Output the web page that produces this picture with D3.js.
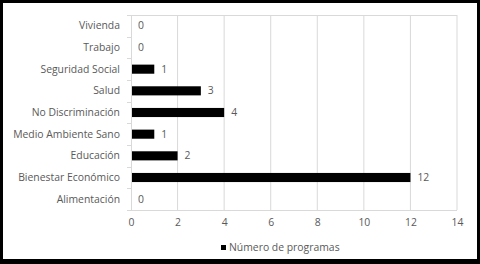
<!DOCTYPE html>
<html>
<head>
<meta charset="utf-8">
<script src="https://cdn.jsdelivr.net/npm/d3@7"></script>
<style>
	body { margin: 0; background: #000; }
	svg { display: block; }
	text { font-family: "Open Sans", sans-serif; font-size: 10.4px; fill: #595959; }
</style>
</head>
<body>
<div id="chart-area"></div>
<script>
// categories, bottom to top as in the spreadsheet
let categories = ["Alimentación", "Bienestar Económico", "Educación", "Medio Ambiente Sano",
	"No Discriminación", "Salud", "Seguridad Social", "Trabajo", "Vivienda"];
let programas = [0, 12, 2, 1, 4, 3, 1, 0, 0];
let xTicks = [0, 2, 4, 6, 8, 10, 12, 14];
let seriesName = "Número de programas";

let data = categories.map((c, i) => ({ cat: c, value: programas[i] }));

drawChart(data)

function drawChart(data){
	let W = 480, H = 264;
	let margin = {top: 15, right: 23, bottom: 54, left: 131};
	let width = W - margin.left - margin.right,
		height = H - margin.top - margin.bottom;

	let root = d3.select("#chart-area").append("svg")
		.attr("width", W)
		.attr("height", H);

	// black frame around the white chart area
	root.append("rect").attr("width", W).attr("height", H).attr("fill", "#000");
	root.append("rect").attr("x", 3).attr("y", 3).attr("width", 474).attr("height", 256).attr("fill", "#fff");

	let svg = root.append("g")
		.attr("transform", "translate(" + margin.left + "," + margin.top + ")");

	let x = d3.scaleLinear()
		.domain([0, 14])
		.range([0, width])

	let y = d3.scaleBand()
		.domain(categories.slice().reverse())
		.range([0, height])
		.paddingInner(0.58)
		.paddingOuter(0.29)

	// vertical gridlines
	svg.selectAll(".grid").data(xTicks.slice(1))
		.enter().append("line")
		.attr("class", "grid")
		.attr("x1", d => x(d)).attr("x2", d => x(d))
		.attr("y1", 0).attr("y2", height)
		.attr("stroke", "#d9d9d9")
		.attr("stroke-width", 1)

	// top border line
	svg.append("line")
		.attr("x1", 0).attr("x2", width)
		.attr("y1", 0.5).attr("y2", 0.5)
		.attr("stroke", "#d9d9d9")

	// x axis
	let xAxis = d3.axisBottom(x)
		.tickValues(xTicks)
		.tickSize(0)
		.tickPadding(9)
	let gx = svg.append("g")
		.attr("transform", "translate(0," + height + ")")
		.call(xAxis);
	gx.select(".domain").remove();
	gx.selectAll("text").style("font-size", "10.4px").attr("fill", "#595959");

	// category axis line with ticks between categories
	let step = y.step();
	svg.append("line")
		.attr("x1", -4).attr("x2", width)
		.attr("y1", height + 0.5).attr("y2", height + 0.5)
		.attr("stroke", "#d9d9d9")
	svg.append("line")
		.attr("x1", 0.5).attr("x2", 0.5)
		.attr("y1", 0).attr("y2", height)
		.attr("stroke", "#d9d9d9")
	svg.selectAll(".ytick").data(d3.range(categories.length))
		.enter().append("line")
		.attr("class", "ytick")
		.attr("x1", -4).attr("x2", 0)
		.attr("y1", i => Math.round(i * step) + 0.5)
		.attr("y2", i => Math.round(i * step) + 0.5)
		.attr("stroke", "#d9d9d9")

	// category labels
	svg.selectAll(".cat-label").data(data)
		.enter().append("text")
		.attr("class", "cat-label")
		.attr("x", -11)
		.attr("y", d => y(d.cat) + y.bandwidth() / 2)
		.attr("dy", "0.35em")
		.attr("text-anchor", "end")
		.text(d => d.cat)

	// bars
	svg.selectAll(".bar").data(data)
		.enter().append("rect")
		.attr("class", "bar")
		.attr("x", x(0) + 1)
		.attr("y", d => y(d.cat))
		.attr("width", d => Math.max(0, x(d.value) - x(0) - 1))
		.attr("height", y.bandwidth())
		.attr("fill", "#000")

	// value labels
	svg.selectAll(".val").data(data)
		.enter().append("text")
		.attr("class", "val")
		.attr("x", d => x(d.value) + 7)
		.attr("y", d => y(d.cat) + y.bandwidth() / 2)
		.attr("dy", "0.35em")
		.text(d => d.value)

	// legend
	let legend = root.append("g").attr("transform", "translate(221,247)");
	legend.append("rect")
		.attr("x", 0).attr("y", -2).attr("width", 5).attr("height", 5)
		.attr("fill", "#000")
	legend.append("text")
		.attr("x", 8).attr("y", 0)
		.attr("dy", "0.35em")
		.text(seriesName)
}
</script>
</body>
</html>
